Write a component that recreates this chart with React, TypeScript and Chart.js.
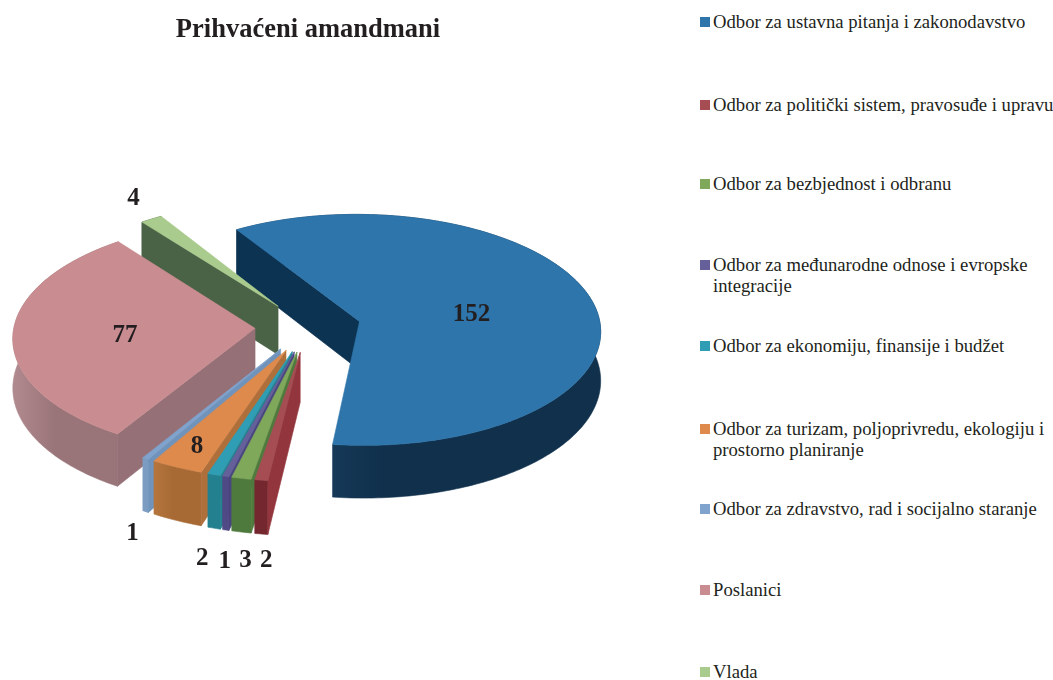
import React, { useEffect, useRef } from "react";
import { Chart, registerables } from "chart.js";

Chart.register(...registerables);

const categories = [
  "Odbor za ustavna pitanja i zakonodavstvo",
  "Odbor za politički sistem, pravosuđe i upravu",
  "Odbor za bezbjednost i odbranu",
  "Odbor za međunarodne odnose i evropske integracije",
  "Odbor za ekonomiju, finansije i budžet",
  "Odbor za turizam, poljoprivredu, ekologiju i prostorno planiranje",
  "Odbor za zdravstvo, rad i socijalno staranje",
  "Poslanici",
  "Vlada",
];
const values = [152, 2, 3, 1, 2, 8, 1, 77, 4];
const topColors = ["#2e75ab", "#a64d54", "#7fa85a", "#66609a", "#2f9db3", "#dd8a4c", "#7fa3cd", "#c98d91", "#a9cb8d"];
const radialWalls = ["#0d3352", "#93353d", "#4f7a3d", "#4a4580", "#23808f", "#ae6f3a", "#6f93ba", "#967077", "#4a6346"];
const rimWallsLeft = ["#1f4a6c", "#74272f", "#4f7a3d", "#4f4a85", "#23808f", "#b5763d", "#7c9cc2", "#b08a8f", "#4a6346"];
const rimWallsRight = ["#10304c", "#74272f", "#4f7a3d", "#4f4a85", "#23808f", "#a86a35", "#7c9cc2", "#997479", "#4a6346"];
const drawOrder = [0, 8, 7, 6, 5, 4, 3, 2, 1];
const labelNudges: [number, number][] = [
  [-118, 18], [5, 80], [4, 82], [-1, 85], [-12, 84], [20, -21], [-13, 75], [112, 1], [-18, -21],
];
const legendRowCentres = [21, 104, 183, 264, 345, 428, 508, 589, 671];

const FOCAL = 3265;
const TILT = 0.48;
const DEPTH = 49;
const SERIF = '"Liberation Serif", "Times New Roman", serif';

function project(cx: number, cy: number, u: number, v: number) {
  const s = 1 / (1 + v / FOCAL);
  return { x: cx + u * s, y: cy - TILT * v * s, s, v };
}

const pie3d = {
  id: "pie3d",
  beforeDatasetsDraw(chart: any) {
    const ctx: CanvasRenderingContext2D = chart.ctx;
    const arcs = chart.getDatasetMeta(0).data;
    const paint = (pts: { x: number; y: number }[], fill: any) => {
      ctx.beginPath();
      pts.forEach((p, i) => (i ? ctx.lineTo(p.x, p.y) : ctx.moveTo(p.x, p.y)));
      ctx.closePath();
      ctx.fillStyle = fill;
      ctx.strokeStyle = fill;
      ctx.lineWidth = 0.6;
      ctx.fill();
      ctx.stroke();
    };
    const labels: { text: string; x: number; y: number }[] = [];
    for (const i of drawOrder) {
      const el = arcs[i];
      const { x: cx, y: cy, startAngle, endAngle, outerRadius } = el.getProps(["x", "y", "startAngle", "endAngle", "outerRadius"]);
      const offset = el.options.offset;
      const mid = (startAngle + endAngle) / 2;
      const ox = Math.cos(mid) * offset;
      const oy = -Math.sin(mid) * offset;
      const rimAt = (a: number) => project(cx, cy, ox + Math.cos(a) * outerRadius, oy - Math.sin(a) * outerRadius);
      const steps = Math.max(2, Math.ceil(((endAngle - startAngle) * 180) / Math.PI));
      const rim: any[] = [];
      for (let k = 0; k <= steps; k++) rim.push(rimAt(startAngle + ((endAngle - startAngle) * k) / steps));
      const apex = project(cx, cy, ox, oy);
      const down = (p: any) => ({ x: p.x, y: p.y + DEPTH * p.s });
      const minX = Math.min(...rim.map((p) => p.x));
      const maxX = Math.max(...rim.map((p) => p.x));
      const grad = ctx.createLinearGradient(minX, 0, maxX, 0);
      grad.addColorStop(0, rimWallsLeft[i]);
      grad.addColorStop(0.4, rimWallsRight[i]);
      grad.addColorStop(1, rimWallsRight[i]);

      const first = rim[0];
      paint([...rim, ...rim.slice().reverse().map(down)], grad);
      paint([apex, first, down(first), down(apex)], radialWalls[i]);
      paint([apex, ...rim], topColors[i]);

      const edge = rimAt(mid);
      labels.push({ text: String(values[i]), x: edge.x + labelNudges[i][0], y: edge.y + labelNudges[i][1] });
    }
    ctx.save();
    ctx.font = `bold 25px ${SERIF}`;
    ctx.fillStyle = "#231f20";
    ctx.textAlign = "center";
    ctx.textBaseline = "middle";
    labels.forEach((l) => ctx.fillText(l.text, l.x, l.y));
    ctx.restore();
    return false;
  },
};

export default function App() {
  const ref = useRef<HTMLCanvasElement>(null);
  useEffect(() => {
    const chart = new Chart(ref.current as HTMLCanvasElement, {
      type: "pie",
      data: {
        labels: categories,
        datasets: [{ data: values, backgroundColor: topColors, borderWidth: 0, offset: 53 } as any],
      },
      options: {
        animation: false,
        responsive: false,
        events: [],
        rotation: -32,
        radius: 241,
        layout: { padding: { bottom: 72 } },
        plugins: {
          legend: { display: false },
          tooltip: { enabled: false },
          title: {
            display: true,
            text: "Prihvaćeni amandmani",
            color: "#231f20",
            font: { family: SERIF, size: 26.5, weight: "bold", lineHeight: 1.2 },
            padding: { top: 14, bottom: 0 },
          },
        },
      } as any,
      plugins: [pie3d],
    });
    return () => chart.destroy();
  }, []);
  return (
    <div style={{ position: "absolute", left: 0, top: 0, width: 1053, height: 680, overflow: "hidden", background: "#fff" }}>
      <canvas ref={ref} width={616} height={680} style={{ position: "absolute", left: 0, top: 0 }} />
      {categories.map((name, i) => (
        <div key={name} style={{ position: "absolute", left: 700, top: legendRowCentres[i] - 10.5, width: 358, display: "flex", fontFamily: SERIF, fontSize: 18.66, lineHeight: "21px", color: "#231f20" }}>
          <span style={{ width: 10, height: 10, marginTop: 6, marginRight: 3, flex: "none", background: topColors[i] }} />
          <span>{name}</span>
        </div>
      ))}
    </div>
  );
}
